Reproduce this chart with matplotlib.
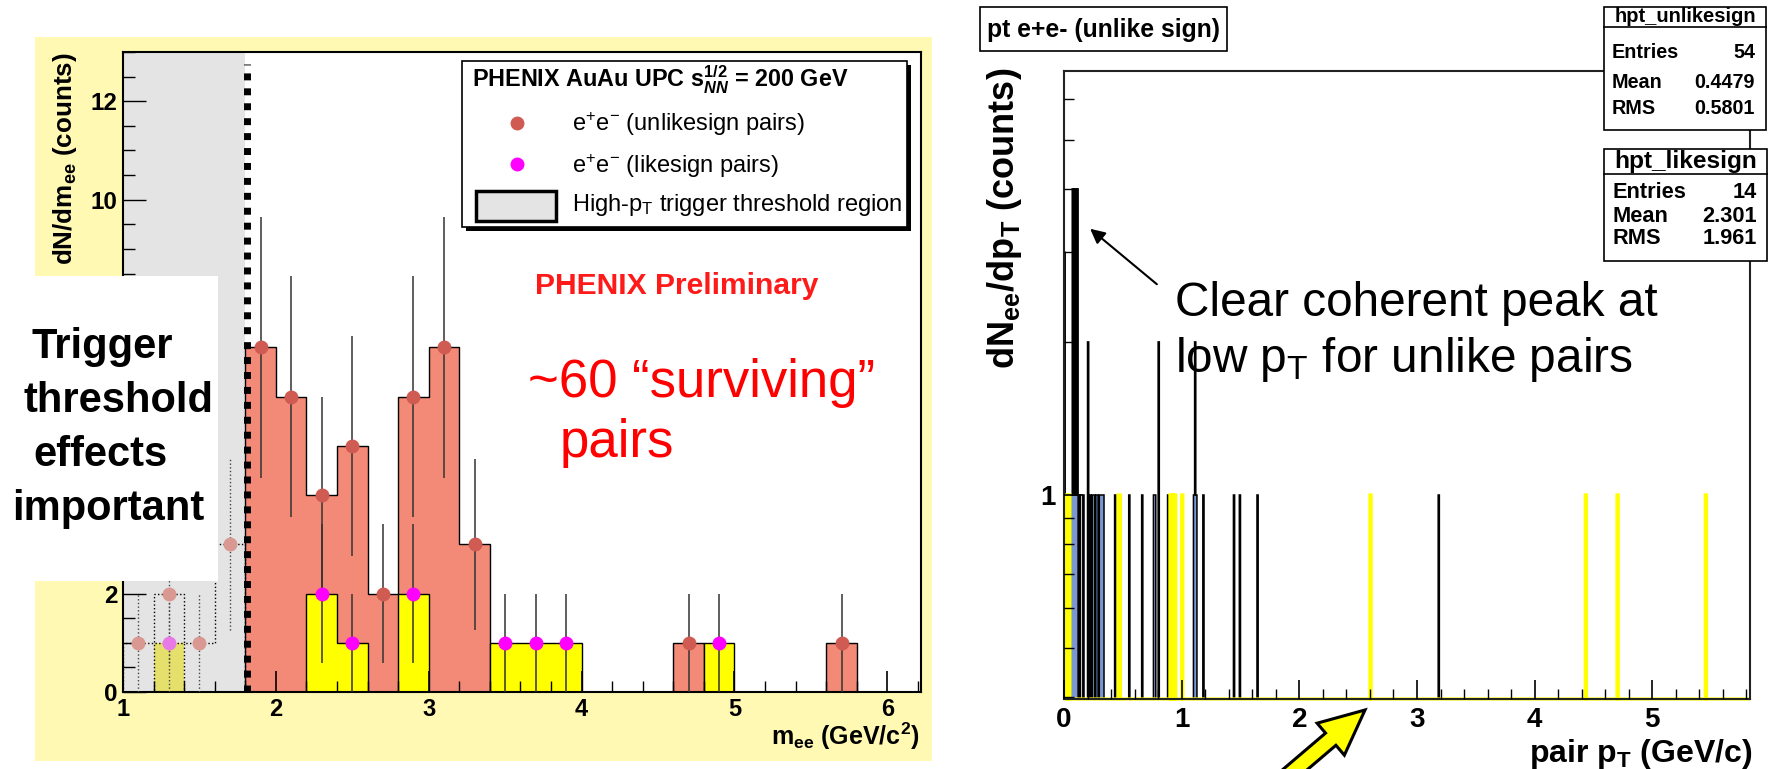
import numpy as np
import matplotlib
matplotlib.use('Agg')
import matplotlib.pyplot as plt
from matplotlib.patches import Rectangle, FancyArrow, FancyArrowPatch
from matplotlib.lines import Line2D
from matplotlib.ticker import (MultipleLocator, FixedLocator, FixedFormatter, LogLocator,
                               NullFormatter, FuncFormatter)
from matplotlib.transforms import IdentityTransform

plt.rcParams['font.family'] = ['Liberation Sans', 'DejaVu Sans']
plt.rcParams['font.weight'] = 'bold'
plt.rcParams['mathtext.fontset'] = 'custom'
plt.rcParams['mathtext.rm'] = 'Liberation Sans:weight=normal'
plt.rcParams['mathtext.it'] = 'Liberation Sans:italic:weight=normal'
plt.rcParams['mathtext.bf'] = 'Liberation Sans:bold'
plt.rcParams['mathtext.sf'] = 'Liberation Sans:weight=normal'
try:
    plt.rcParams['mathtext.bfit'] = 'Liberation Sans:italic:bold'
    BFIT = True
except Exception:
    BFIT = False

# ---------------- data: left panel (invariant mass) ----------------
mee_bin_width = 0.2
mee_range = (1.0, 6.2)
mee_threshold = 1.8
mee_unlike_centers = [1.1, 1.3, 1.5, 1.7, 1.9, 2.1, 2.3, 2.5, 2.7, 2.9, 3.1, 3.3, 4.7, 5.7]
mee_unlike_counts = [1, 2, 1, 3, 7, 6, 4, 5, 2, 6, 7, 3, 1, 1]
mee_like_centers = [1.3, 2.3, 2.5, 2.9, 3.5, 3.7, 3.9, 4.9]
mee_like_counts = [1, 2, 1, 2, 1, 1, 1, 1]
# y tick labels left visible (4, 6, 8 sit under the white note box in the original)
mee_visible_ylabels = [0, 2, 10, 12]

# ---------------- data: right panel (pair pT) ----------------
pt_bin_width = 0.01
pt_range = (0.0, 5.83)
pt_unlike_values = [0.005, 0.005, 0.005, 0.015, 0.025, 0.035, 0.045, 0.055, 0.065,
                    0.075, 0.075, 0.075, 0.075, 0.085, 0.095, 0.095, 0.095, 0.095,
                    0.105, 0.115, 0.115, 0.115, 0.115,
                    0.135, 0.165, 0.205, 0.205, 0.225, 0.245, 0.255, 0.275, 0.285,
                    0.305, 0.315, 0.325, 0.335, 0.435, 0.555, 0.665, 0.765, 0.775,
                    0.805, 0.805, 0.885, 1.105, 1.115, 1.115, 1.125, 1.185, 1.445,
                    1.495, 1.645, 3.185]
pt_like_values = [0.025, 0.045, 0.465, 0.475, 0.905, 0.925, 0.945, 1.005,
                  2.605, 4.435, 4.705, 5.455]
stats_unlike = [("Entries", "54"), ("Mean", "0.4479"), ("RMS", "0.5801")]
stats_like = [("Entries", "14"), ("Mean", "2.301"), ("RMS", "1.961")]

SALMON_FILL = '#f28a77'
SALMON_MK = '#cf5b52'
MAGENTA = '#ff00ff'
YELLOW = '#ffff00'
BLUE = '#7b97d0'

W, H = 1774, 769
def fx(x):
    return x / W
def fy(y):
    return 1 - y / H

fig = plt.figure(figsize=(W / 100, H / 100), dpi=100)
fig.patch.set_facecolor('white')

fig.add_artist(Rectangle((fx(35), fy(761)), fx(932) - fx(35), fy(37) - fy(761),
                         transform=fig.transFigure, facecolor='#fff9b4',
                         edgecolor='none', zorder=-10))

# ================= LEFT PANEL =================
axL = fig.add_axes([fx(123), fy(692), fx(921) - fx(123), fy(52) - fy(692)])
axL.set_xlim(mee_range[0], 6.22)
axL.set_ylim(0, 13)
nb = int(round((mee_range[1] - mee_range[0]) / mee_bin_width))
mee_edges = mee_range[0] + mee_bin_width * np.arange(nb + 1)
hu, _ = np.histogram(mee_unlike_centers, bins=mee_edges, weights=mee_unlike_counts)
hl, _ = np.histogram(mee_like_centers, bins=mee_edges, weights=mee_like_counts)
k = int(round((mee_threshold - mee_range[0]) / mee_bin_width))

axL.axvspan(mee_range[0], mee_threshold, facecolor='#e4e4e4', edgecolor='none', zorder=1.0)
axL.stairs(hu[k:], mee_edges[k:], fill=True, facecolor=SALMON_FILL, edgecolor='none', zorder=1.2)
axL.stairs(hu[k:], mee_edges[k:], color='black', lw=1.0, zorder=1.3)
axL.stairs(hl[k:], mee_edges[k:], fill=True, facecolor=YELLOW, edgecolor='none', zorder=1.4)
axL.stairs(hl[k:], mee_edges[k:], color='black', lw=1.0, zorder=1.5)
axL.stairs(hl[:k], mee_edges[:k + 1], fill=True, facecolor='#e5df6c', edgecolor='none', zorder=1.4)
axL.stairs(hl[:k], mee_edges[:k + 1], color='black', lw=1.0, ls=':', zorder=1.5)
axL.stairs(hu[:k], mee_edges[:k + 1], color='black', lw=1.0, ls=':', zorder=1.5)

uc = np.array(mee_unlike_centers); un = np.array(mee_unlike_counts, float)
lc = np.array(mee_like_centers); ln = np.array(mee_like_counts, float)
for cen, cnt, col, fcol in [(uc, un, SALMON_MK, '#d99891'), (lc, ln, MAGENTA, '#e77ae7')]:
    hi = cen > mee_threshold
    axL.errorbar(cen[hi], cnt[hi], yerr=np.sqrt(cnt[hi]), fmt='o', ms=9,
                 mfc=col, mec=col, ecolor='#333333', elinewidth=1.1, capsize=0, zorder=4)
    eb2 = axL.errorbar(cen[~hi], cnt[~hi], yerr=np.sqrt(cnt[~hi]), fmt='o', ms=9,
                       mfc=fcol, mec=fcol, ecolor='#444444', elinewidth=1.0, capsize=0, zorder=3.5)
    for lcx in eb2[2]:
        lcx.set_linestyle(':')

axL.axvline(mee_threshold + 0.008, ymin=0, ymax=12.75 / 13, color='black', lw=5,
            ls=(0, (1.0, 1.15)), zorder=6)

axL.set_axisbelow(False)
axL.xaxis.set_major_locator(MultipleLocator(1))
axL.xaxis.set_minor_locator(MultipleLocator(0.2))
axL.yaxis.set_major_locator(MultipleLocator(2))
axL.yaxis.set_minor_locator(MultipleLocator(0.5))
axL.yaxis.set_major_formatter(FuncFormatter(
    lambda v, p: '%d' % round(v) if round(v) in mee_visible_ylabels else ''))
axL.tick_params(axis='x', which='major', direction='in', length=15, width=1.2, pad=4.5, labelsize=17)
axL.tick_params(axis='x', which='minor', direction='in', length=8, width=1.0)
axL.tick_params(axis='y', which='major', direction='in', length=16.5, width=1.0, pad=4, labelsize=17.5)
axL.tick_params(axis='y', which='minor', direction='in', length=8.5, width=1.0)
axL.tick_params(top=False, right=False, which='both')
for sp in axL.spines.values():
    sp.set_linewidth(1.5)
    sp.set_color('black')

# ================= RIGHT PANEL =================
axR = fig.add_axes([fx(1064), fy(699), fx(1750) - fx(1064), fy(70.7) - fy(699)])
axR.set_yscale('log')
ybot, ytop = 0.397, 6.83
axR.set_ylim(ybot, ytop)
axR.set_xlim(*pt_range)
npt = int(round((pt_range[1] - pt_range[0]) / pt_bin_width))
pt_edges = np.linspace(pt_range[0], pt_range[1], npt + 1)
hpu, _ = np.histogram(pt_unlike_values, bins=pt_edges)
hpl, _ = np.histogram(pt_like_values, bins=pt_edges)
vu = np.where(hpu > 0, hpu, ybot).astype(float)
vl = np.where(hpl > 0, hpl, ybot).astype(float)
axR.stairs(vu, pt_edges, baseline=ybot, fill=True, facecolor=BLUE, edgecolor='none', zorder=1.2)
axR.stairs(vu, pt_edges, baseline=ybot, color='black', lw=1.1, zorder=1.3)
axR.stairs(vl, pt_edges, baseline=ybot, color=YELLOW, lw=2.3, zorder=1.6, clip_on=False)

axR.set_axisbelow(False)
axR.xaxis.set_major_locator(MultipleLocator(1))
axR.xaxis.set_minor_locator(MultipleLocator(0.2))
axR.yaxis.set_major_locator(FixedLocator([1]))
axR.yaxis.set_major_formatter(FixedFormatter(['1']))
axR.yaxis.set_minor_locator(LogLocator(base=10, subs=np.arange(2, 10)))
axR.yaxis.set_minor_formatter(NullFormatter())
axR.tick_params(axis='x', which='major', direction='in', length=13.5, width=1.2, pad=6, labelsize=20)
axR.tick_params(axis='x', which='minor', direction='in', length=7, width=1.0)
axR.tick_params(axis='y', which='major', direction='in', length=14, width=1.2, pad=6, labelsize=20)
axR.tick_params(axis='y', which='minor', direction='in', length=7.5, width=1.0)
axR.tick_params(top=False, right=False, which='both')
for sp in axR.spines.values():
    sp.set_linewidth(1.5)
    sp.set_color('#222222')

# ================= TEXT & DECORATION =================
fig.text(fx(65), fy(52), r'dN/dm$_{\mathbf{ee}}$ (counts)', rotation=90, ha='center', va='top',
         fontsize=18.7, fontweight='bold')
fig.text(fx(920), fy(745), r'm$_{\mathbf{ee}}$ (GeV/c$^{\mathbf{2}}$)', ha='right', va='baseline',
         fontsize=18, fontweight='bold')
fig.text(fx(1005), fy(68), r'dN$_{\mathbf{ee}}$/dp$_{\mathbf{T}}$ (counts)', rotation=90, ha='center',
         va='top', fontsize=26, fontweight='bold')
fig.text(fx(1752), fy(762), r'pair p$_{\mathbf{T}}$ (GeV/c)', ha='right', va='baseline',
         fontsize=23, fontweight='bold')

fig.add_artist(Rectangle((fx(466), fy(231)), fx(911) - fx(466), fy(65) - fy(231),
                         transform=fig.transFigure, facecolor='black', edgecolor='none', zorder=2.9))
fig.add_artist(Rectangle((fx(462), fy(227)), fx(907) - fx(462), fy(61) - fy(227),
                         transform=fig.transFigure, facecolor='white', edgecolor='black', lw=1.2, zorder=3))
title_math = r'$_{\mathbfit{NN}}^{\mathbf{1/2}}$' if BFIT else r'$_{\mathbf{NN}}^{\mathbf{1/2}}$'
fig.text(fx(472), fy(87), 'PHENIX AuAu UPC s' + title_math + ' = 200 GeV', ha='left', va='baseline',
         fontsize=16.8, fontweight='bold', zorder=4)
fig.add_artist(Line2D([fx(517)], [fy(122.5)], marker='o', ms=9, color=SALMON_MK, ls='none',
                      transform=fig.transFigure, zorder=4))
fig.add_artist(Line2D([fx(517)], [fy(164)], marker='o', ms=9, color=MAGENTA, ls='none',
                      transform=fig.transFigure, zorder=4))
fig.text(fx(572), fy(131), r'e$^{+}$e$^{-}$ (unlikesign pairs)', ha='left', va='baseline',
         fontsize=17, fontweight='normal', zorder=4)
fig.text(fx(572), fy(172.5), r'e$^{+}$e$^{-}$ (likesign pairs)', ha='left', va='baseline',
         fontsize=17, fontweight='normal', zorder=4)
fig.add_artist(Rectangle((fx(476), fy(221)), fx(556) - fx(476), fy(191) - fy(221),
                         transform=fig.transFigure, facecolor='#e4e4e4', edgecolor='black', lw=2.5, zorder=4))
fig.text(fx(572), fy(210.5), r'High-p$_{\mathrm{T}}$ trigger threshold region', ha='left', va='baseline',
         fontsize=17, fontweight='normal', zorder=4)

fig.text(fx(535), fy(294), 'PHENIX Preliminary', color='#ff1a1a', ha='left', va='baseline',
         fontsize=21.6, fontweight='bold', zorder=4)
fig.text(fx(528), fy(397), '~60 \u201csurviving\u201d', color='#ff0000', ha='left', va='baseline',
         fontsize=38, fontweight='normal', zorder=4)
fig.text(fx(560), fy(457), 'pairs', color='#ff0000', ha='left', va='baseline',
         fontsize=38, fontweight='normal', zorder=4)

fig.add_artist(Rectangle((0, fy(581)), fx(218), fy(276) - fy(581), transform=fig.transFigure,
                         facecolor='white', edgecolor='none', zorder=5))
for txt, x0, yb in [('Trigger', 32, 358), ('threshold', 24, 412), ('effects', 33, 466), ('important', 12, 520)]:
    fig.text(fx(x0), fy(yb), txt, ha='left', va='baseline', fontsize=30, fontweight='bold', zorder=6)

fig.add_artist(Rectangle((fx(980), fy(51)), fx(1227) - fx(980), fy(7) - fy(51), transform=fig.transFigure,
                         facecolor='white', edgecolor='black', lw=1.2, zorder=4))
fig.text(fx(1103.5), fy(29.5), 'pt e+e- (unlike sign)', ha='center', va='center', fontsize=17.8,
         fontweight='bold', zorder=5)

def stat_box(x0, x1, y0, yh, y1, title, tsize, rows, rys, rsize, xl, xr):
    fig.add_artist(Rectangle((fx(x0), fy(y1)), fx(x1) - fx(x0), fy(y0) - fy(y1), transform=fig.transFigure,
                             facecolor='white', edgecolor='black', lw=1.2, zorder=4))
    fig.add_artist(Line2D([fx(x0), fx(x1)], [fy(yh), fy(yh)], color='black', lw=1.2,
                          transform=fig.transFigure, zorder=5))
    fig.text(fx((x0 + x1) / 2), fy((y0 + yh) / 2), title, ha='center', va='center', fontsize=tsize,
             fontweight='bold', zorder=5)
    for (lab, val), ry in zip(rows, rys):
        fig.text(fx(xl), fy(ry), lab, ha='left', va='center', fontsize=rsize, fontweight='bold', zorder=5)
        fig.text(fx(xr), fy(ry), val, ha='right', va='center', fontsize=rsize, fontweight='bold', zorder=5)

stat_box(1604, 1766, 7, 27, 130, 'hpt_unlikesign', 14.5, stats_unlike, [52, 82, 109], 14.2, 1612, 1755)
stat_box(1604, 1767, 149, 174, 261, 'hpt_likesign', 17.6, stats_like, [193, 216, 239], 15.7, 1613, 1757)

fig.text(fx(1175), fy(316), 'Clear coherent peak at', ha='left', va='baseline', fontsize=34.4,
         fontweight='normal', zorder=5)
fig.text(fx(1175), fy(372), r'low p$_{\mathrm{T}}$ for unlike pairs', ha='left', va='baseline', fontsize=34.4,
         fontweight='normal', zorder=5)

fig.add_artist(FancyArrowPatch((1159, H - 286), (1088, H - 227), transform=IdentityTransform(),
                               arrowstyle='-|>', mutation_scale=22, lw=1.5, color='black', zorder=6))
fig.add_artist(FancyArrow(1284, -10, 81, 69, width=16, head_width=42, head_length=45,
                          length_includes_head=True, transform=IdentityTransform(),
                          facecolor=YELLOW, edgecolor='black', lw=2.2, zorder=6))

fig.savefig('out.png', dpi=100, facecolor='white')
